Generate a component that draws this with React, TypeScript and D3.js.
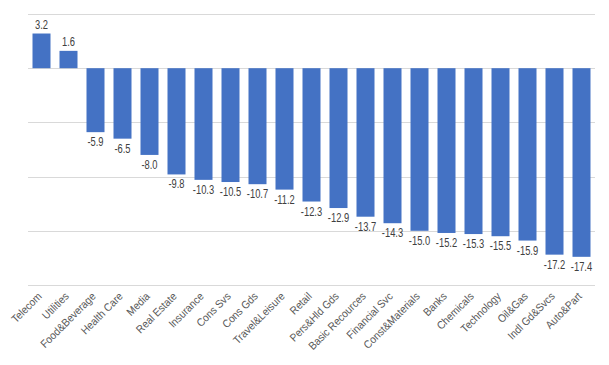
import { useEffect, useRef } from 'react';
import * as d3 from 'd3';

const width = 609;
const height = 365;

const sectors = [
  'Telecom', 'Utilities', 'Food&Beverage', 'Health Care', 'Media', 'Real Estate',
  'Insurance', 'Cons Svs', 'Cons Gds', 'Travel&Leisure', 'Retail', 'Pers&Hld Gds',
  'Basic Recources', 'Financial Svc', 'Const&Materials', 'Banks', 'Chemicals',
  'Technology', 'Oil&Gas', 'Indl Gd&Svcs', 'Auto&Part',
];
const returns = [
  3.2, 1.6, -5.9, -6.5, -8.0, -9.8, -10.3, -10.5, -10.7, -11.2, -12.3, -12.9,
  -13.7, -14.3, -15.0, -15.2, -15.3, -15.5, -15.9, -17.2, -17.4,
];
const gridTicks = [5, 0, -5, -10, -15, -20];

export default function App() {
  const ref = useRef<SVGSVGElement>(null);

  useEffect(() => {
    const svg = d3.select(ref.current);
    svg.selectAll('*').remove();

    const x = d3.scaleBand().domain(sectors).range([28, 595]).paddingInner(1 / 3).paddingOuter(1 / 6);
    const y = d3.scaleLinear().domain([5, -20]).range([14, 285]);

    // gridlines
    svg.append('g')
      .selectAll('line')
      .data(gridTicks)
      .join('line')
      .attr('x1', 28).attr('x2', 595)
      .attr('y1', (d) => Math.round(y(d)) + 0.5)
      .attr('y2', (d) => Math.round(y(d)) + 0.5)
      .attr('stroke', '#d9d9d9')
      .attr('stroke-width', 1);

    const data = sectors.map((s, i) => ({ s, v: returns[i] }));

    svg.append('g')
      .selectAll('rect')
      .data(data)
      .join('rect')
      .attr('x', (d) => x(d.s)!)
      .attr('width', x.bandwidth())
      .attr('y', (d) => y(Math.max(0, d.v)))
      .attr('height', (d) => Math.abs(y(d.v) - y(0)))
      .attr('fill', '#4472c4');

    // value labels (narrow, like Calibri)
    svg.append('g')
      .selectAll('text')
      .data(data)
      .join('text')
      .attr('transform', (d) =>
        `translate(${x(d.s)! + x.bandwidth() / 2},${d.v >= 0 ? y(d.v) - 5 : y(d.v) + 14}) scale(0.78,1)`)
      .attr('text-anchor', 'middle')
      .attr('font-family', 'Liberation Sans, sans-serif')
      .attr('font-size', 12)
      .attr('fill', '#404040')
      .text((d) => d.v.toFixed(1));

    // category labels
    svg.append('g')
      .selectAll('text')
      .data(sectors)
      .join('text')
      .attr('transform', (d) => `translate(${x(d)! + x.bandwidth() / 2 + 1},${297}) rotate(-45) scale(0.92,1)`)
      .attr('text-anchor', 'end')
      .attr('font-family', 'Liberation Sans, sans-serif')
      .attr('font-size', 11)
      .attr('fill', '#595959')
      .text((d) => d);
  }, []);

  return <svg ref={ref} width={width} height={height} style={{ display: 'block', margin: -8 }} />;
}
